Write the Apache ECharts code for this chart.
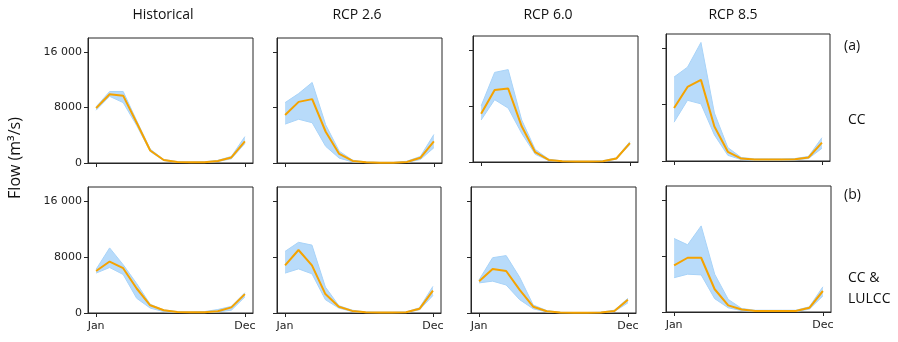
<!DOCTYPE html>
<html><head><meta charset="utf-8">
<script src="https://cdn.jsdelivr.net/npm/echarts@6/dist/echarts.min.js"></script>
<style>html,body{margin:0;padding:0;background:#fff}#c{width:898px;height:342px}</style>
</head><body><div id="c"></div>
<script>
const months = ['Jan','Feb','Mar','Apr','May','Jun','Jul','Aug','Sep','Oct','Nov','Dec'];
const colTitles = ['Historical','RCP 2.6','RCP 6.0','RCP 8.5'];
const yTicks = [0, 8000, 16000];

// Row (a) CC
const histCC_med = [7900, 9900, 9700, 5800, 1800, 430, 150, 100, 120, 300, 800, 3100];
const histCC_lo  = [7600, 9600, 8700, 5400, 1650, 350, 100, 60, 80, 220, 600, 2800];
const histCC_hi  = [8100, 10300, 10300, 6100, 2000, 500, 200, 150, 170, 380, 950, 3800];
const rcp26CC_med = [6900, 8800, 9200, 4500, 1300, 300, 100, 50, 50, 150, 750, 3100];
const rcp26CC_lo  = [5600, 6300, 5800, 2400, 700, 150, 50, 20, 20, 80, 500, 2200];
const rcp26CC_hi  = [8700, 10000, 11600, 5500, 1700, 400, 150, 100, 100, 250, 950, 4100];
const rcp60CC_med = [6900, 10300, 10500, 5100, 1400, 300, 100, 80, 80, 120, 500, 2700];
const rcp60CC_lo  = [6000, 8900, 7700, 4100, 1100, 200, 60, 40, 40, 80, 400, 2500];
const rcp60CC_hi  = [8000, 12800, 13200, 6000, 1800, 400, 150, 120, 120, 180, 600, 2900];
const rcp85CC_med = [7500, 10500, 11500, 4900, 1300, 350, 200, 200, 200, 250, 500, 2600];
const rcp85CC_lo  = [5500, 8600, 8100, 3700, 800, 200, 100, 100, 100, 150, 350, 1800];
const rcp85CC_hi  = [11900, 13300, 16800, 6800, 1900, 500, 300, 300, 300, 350, 650, 3300];
// Row (b) CC & LULCC
const histLU_med = [6000, 7350, 6400, 3500, 1100, 400, 150, 100, 100, 250, 800, 2700];
const histLU_lo  = [5700, 6500, 5500, 2100, 700, 200, 80, 50, 50, 150, 400, 2300];
const histLU_hi  = [6250, 9300, 6900, 4200, 1250, 450, 200, 150, 200, 500, 950, 2900];
const rcp26LU_med = [6800, 9000, 6800, 2700, 900, 300, 100, 80, 80, 100, 600, 3200];
const rcp26LU_lo  = [5700, 6300, 5600, 1900, 700, 200, 50, 30, 30, 60, 450, 2500];
const rcp26LU_hi  = [8800, 10100, 9700, 3700, 1050, 400, 150, 120, 120, 150, 750, 3800];
const rcp60LU_med = [4550, 6300, 6000, 3300, 900, 250, 60, 50, 50, 80, 300, 1900];
const rcp60LU_lo  = [4300, 4550, 4000, 1900, 600, 150, 30, 20, 20, 50, 200, 1450];
const rcp60LU_hi  = [4750, 7900, 8200, 5100, 1150, 350, 100, 80, 80, 120, 400, 2100];
const rcp85LU_med = [6650, 7750, 7750, 3250, 950, 350, 150, 150, 150, 150, 600, 3000];
const rcp85LU_lo  = [4900, 5400, 5300, 1900, 600, 200, 80, 80, 80, 80, 400, 2300];
const rcp85LU_hi  = [10500, 9600, 12300, 5400, 1800, 500, 250, 250, 250, 250, 750, 3600];

const panels = [
  {med: histCC_med, lo: histCC_lo, hi: histCC_hi},
  {med: rcp26CC_med, lo: rcp26CC_lo, hi: rcp26CC_hi},
  {med: rcp60CC_med, lo: rcp60CC_lo, hi: rcp60CC_hi},
  {med: rcp85CC_med, lo: rcp85CC_lo, hi: rcp85CC_hi},
  {med: histLU_med, lo: histLU_lo, hi: histLU_hi},
  {med: rcp26LU_med, lo: rcp26LU_lo, hi: rcp26LU_hi},
  {med: rcp60LU_med, lo: rcp60LU_lo, hi: rcp60LU_hi},
  {med: rcp85LU_med, lo: rcp85LU_lo, hi: rcp85LU_hi}
];
// layout boxes [left, top, right, bottom]
const boxes = [
  [88, 38, 253, 163], [277, 38, 442, 163], [473, 36, 638, 162], [666, 34, 830, 161],
  [88, 187, 253, 313], [277, 187, 441, 313], [471, 187, 636, 313], [666, 186, 831, 312]
];

const AX = '#262626';
const BAND_EDGE = '#a8d3f8';
const BAND_FILL = '#b8dbfa';
const grids = [], xAxes = [], yAxes = [], series = [];
panels.forEach((p, i) => {
  const b = boxes[i];
  const row = Math.floor(i / 4), col = i % 4;
  grids.push({left: b[0], top: b[1], width: b[2] - b[0], height: b[3] - b[1],
    show: true, borderColor: AX, borderWidth: 1, backgroundColor: 'transparent'});
  xAxes.push({type: 'value', gridIndex: i, min: -0.6, max: 11.6,
    axisLine: {show: true, onZero: false, lineStyle: {color: AX, width: 1}},
    axisTick: {show: true, customValues: [0, 11], length: 4, lineStyle: {color: AX}},
    axisLabel: {show: row === 1, customValues: [0, 11], formatter: v => months[Math.round(v)],
      fontFamily: 'DejaVu Sans', fontSize: 11, color: '#222', margin: 8},
    splitLine: {show: false}});
  yAxes.push({type: 'value', gridIndex: i, min: 0, max: 18000,
    axisLine: {show: true, onZero: false, lineStyle: {color: AX, width: 1}},
    axisTick: {show: true, customValues: yTicks, length: 4, lineStyle: {color: AX}},
    axisLabel: {show: col === 0, customValues: yTicks,
      formatter: v => v >= 10000 ? String(v).replace(/(\d)(\d{3})$/, '$1 $2') : String(v),
      fontFamily: 'DejaVu Sans', fontSize: 11, color: '#222', margin: 6},
    splitLine: {show: false}});
  // band fill between lo and hi, positioned through the axis scales
  series.push({type: 'custom', xAxisIndex: i, yAxisIndex: i, silent: true, z: 1,
    data: [[0, 0]],
    renderItem: (params, api) => {
      const pts = [];
      p.hi.forEach((v, k) => pts.push(api.coord([k, v])));
      for (let k = p.lo.length - 1; k >= 0; k--) pts.push(api.coord([k, p.lo[k]]));
      return {type: 'polygon', shape: {points: pts}, style: {fill: BAND_FILL, stroke: 'none'}};
    }});
  series.push({type: 'line', xAxisIndex: i, yAxisIndex: i,
    data: p.lo.map((v, k) => [k, v]), symbol: 'none', silent: true,
    lineStyle: {color: BAND_EDGE, width: 1}, z: 2});
  series.push({type: 'line', xAxisIndex: i, yAxisIndex: i,
    data: p.hi.map((v, k) => [k, v]), symbol: 'none', silent: true,
    lineStyle: {color: BAND_EDGE, width: 1}, z: 2});
  series.push({type: 'line', xAxisIndex: i, yAxisIndex: i,
    data: p.med.map((v, k) => [k, v]), symbol: 'none', silent: true,
    lineStyle: {color: '#f5a300', width: 2}, z: 3});
});

const txt = (x, y, s, size, align) => ({type: 'text', x, y,
  style: {text: s, font: size + 'px "Open Sans"', fill: '#111', align: align, verticalAlign: 'middle'}});
const centers = [163, 357, 548, 733];
const graphics = colTitles.map((t, k) => txt(centers[k], 15, t, 14, 'center'));
graphics.push(txt(844, 46, '(a)', 14, 'left'));
graphics.push(txt(848, 120, 'CC', 14, 'left'));
graphics.push(txt(844, 195, '(b)', 14, 'left'));
graphics.push(txt(848, 278, 'CC &', 14, 'left'));
graphics.push(txt(848, 299, 'LULCC', 14, 'left'));
graphics.push({type: 'text', x: 15, y: 158, rotation: Math.PI / 2,
  style: {text: 'Flow (m³/s)', font: '16px "Open Sans"', fill: '#111', align: 'center', verticalAlign: 'middle'}});

const chart = echarts.init(document.getElementById('c'), null, {renderer: 'canvas'});
chart.setOption({animation: false, grid: grids, xAxis: xAxes, yAxis: yAxes, series: series, graphic: graphics});
</script></body></html>
